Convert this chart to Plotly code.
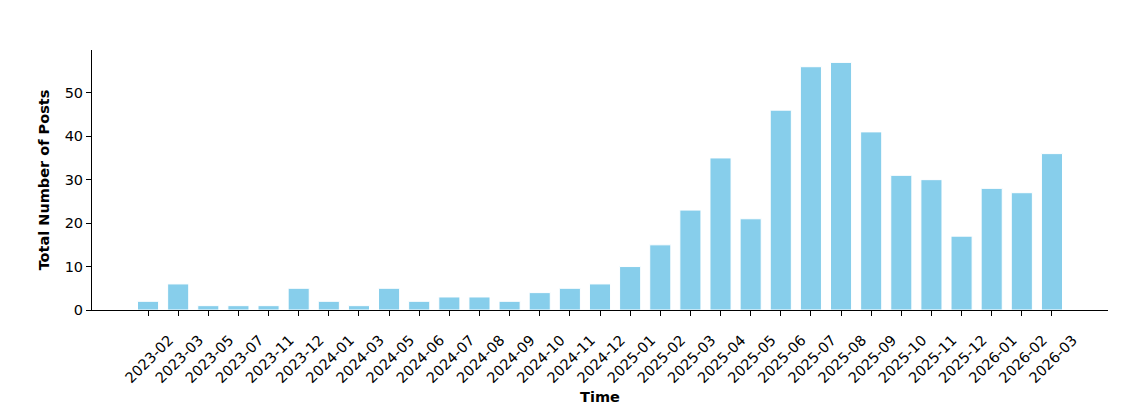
import plotly.graph_objects as go

# Monthly post counts
months = ['2023-02', '2023-03', '2023-05', '2023-07', '2023-11', '2023-12',
          '2024-01', '2024-03', '2024-05', '2024-06', '2024-07', '2024-08',
          '2024-09', '2024-10', '2024-11', '2024-12', '2025-01', '2025-02',
          '2025-03', '2025-04', '2025-05', '2025-06', '2025-07', '2025-08',
          '2025-09', '2025-10', '2025-11', '2025-12', '2026-01', '2026-02',
          '2026-03']
posts = [2, 6, 1, 1, 1, 5, 2, 1, 5, 2, 3, 3, 2, 4, 5, 6, 10, 15, 23, 35, 21,
         46, 56, 57, 41, 31, 30, 17, 28, 27, 36]

pos = list(range(len(months)))

bars = go.Bar(
    x=pos,
    y=posts,
    width=0.7,
    marker=dict(color='#87CEEB', line=dict(color='white', width=1)),
)

font = 'DejaVu Sans, sans-serif'

# page body has an 8px margin, so the figure is shrunk by that much
layout = go.Layout(
    width=1129,
    height=405,
    margin=dict(l=84, r=29, t=42, b=103),
    plot_bgcolor='white',
    paper_bgcolor='white',
    font=dict(family=font, size=14.5, color='black'),
    showlegend=False,
    xaxis=dict(
        title=dict(text='<b>Time</b>', font=dict(size=14.5), standoff=6),
        tickvals=pos,
        ticktext=months,
        tickangle=-45,
        ticklabelshift=21,
        ticklabelstandoff=10,
        range=[-1.86, len(months) - 1 + 1.86],
        showline=True, linecolor='black', linewidth=1,
        ticks='outside', ticklen=5, tickwidth=1, tickcolor='black',
        showgrid=False, zeroline=False, automargin=False,
    ),
    yaxis=dict(
        title=dict(text='<b>Total Number of Posts</b>', font=dict(size=14.5), standoff=11),
        tickvals=[0, 10, 20, 30, 40, 50],
        range=[0, 59.85],
        showline=True, linecolor='black', linewidth=1,
        ticks='outside', ticklen=5, tickwidth=1, tickcolor='black',
        showgrid=False, zeroline=False, automargin=False,
    ),
)

fig = go.Figure(data=[bars], layout=layout)
fig.write_html('out.html')
